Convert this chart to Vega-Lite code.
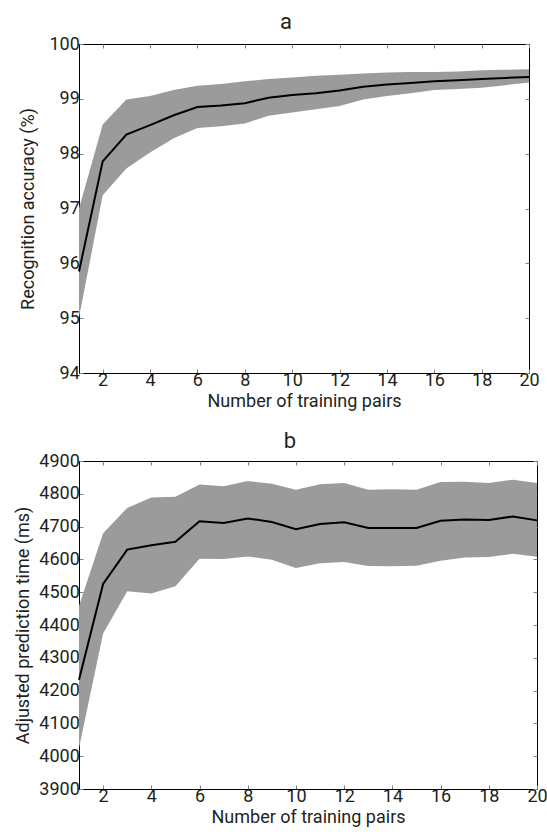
{
  "$schema": "https://vega.github.io/schema/vega-lite/v6.json",
  "padding": {"left": 13, "top": 10, "right": 0, "bottom": 0},
  "spacing": 18,
  "datasets": {
    "a": [
      {"n": 1, "lo": 95.01, "mean": 95.85, "hi": 97.00},
      {"n": 2, "lo": 97.24, "mean": 97.86, "hi": 98.53},
      {"n": 3, "lo": 97.73, "mean": 98.35, "hi": 98.99},
      {"n": 4, "lo": 98.02, "mean": 98.52, "hi": 99.05},
      {"n": 5, "lo": 98.28, "mean": 98.70, "hi": 99.16},
      {"n": 6, "lo": 98.47, "mean": 98.85, "hi": 99.24},
      {"n": 7, "lo": 98.50, "mean": 98.88, "hi": 99.27},
      {"n": 8, "lo": 98.55, "mean": 98.92, "hi": 99.32},
      {"n": 9, "lo": 98.69, "mean": 99.02, "hi": 99.36},
      {"n": 10, "lo": 98.75, "mean": 99.07, "hi": 99.39},
      {"n": 11, "lo": 98.81, "mean": 99.10, "hi": 99.42},
      {"n": 12, "lo": 98.87, "mean": 99.15, "hi": 99.44},
      {"n": 13, "lo": 98.99, "mean": 99.22, "hi": 99.46},
      {"n": 14, "lo": 99.05, "mean": 99.26, "hi": 99.48},
      {"n": 15, "lo": 99.10, "mean": 99.29, "hi": 99.49},
      {"n": 16, "lo": 99.16, "mean": 99.32, "hi": 99.49},
      {"n": 17, "lo": 99.18, "mean": 99.34, "hi": 99.50},
      {"n": 18, "lo": 99.20, "mean": 99.36, "hi": 99.52},
      {"n": 19, "lo": 99.25, "mean": 99.38, "hi": 99.53},
      {"n": 20, "lo": 99.30, "mean": 99.40, "hi": 99.54}
    ],
    "b": [
      {"n": 1, "lo": 4025, "mean": 4233, "hi": 4458},
      {"n": 2, "lo": 4374, "mean": 4525, "hi": 4680},
      {"n": 3, "lo": 4503, "mean": 4630, "hi": 4757},
      {"n": 4, "lo": 4496, "mean": 4643, "hi": 4789},
      {"n": 5, "lo": 4518, "mean": 4654, "hi": 4791},
      {"n": 6, "lo": 4602, "mean": 4716, "hi": 4828},
      {"n": 7, "lo": 4601, "mean": 4711, "hi": 4823},
      {"n": 8, "lo": 4609, "mean": 4725, "hi": 4839},
      {"n": 9, "lo": 4599, "mean": 4714, "hi": 4831},
      {"n": 10, "lo": 4574, "mean": 4692, "hi": 4812},
      {"n": 11, "lo": 4588, "mean": 4708, "hi": 4829},
      {"n": 12, "lo": 4592, "mean": 4713, "hi": 4833},
      {"n": 13, "lo": 4580, "mean": 4696, "hi": 4812},
      {"n": 14, "lo": 4579, "mean": 4696, "hi": 4814},
      {"n": 15, "lo": 4581, "mean": 4696, "hi": 4812},
      {"n": 16, "lo": 4596, "mean": 4718, "hi": 4836},
      {"n": 17, "lo": 4606, "mean": 4722, "hi": 4837},
      {"n": 18, "lo": 4607, "mean": 4720, "hi": 4833},
      {"n": 19, "lo": 4617, "mean": 4731, "hi": 4843},
      {"n": 20, "lo": 4608, "mean": 4719, "hi": 4833}
    ]
  },
  "vconcat": [
    {
      "width": 450,
      "height": 329,
      "title": {"text": "a", "dx": -18, "offset": 1},
      "data": {"name": "a"},
      "layer": [
        {
          "mark": {"type": "area", "color": "#9b9b9b", "opacity": 1},
          "encoding": {
            "x": {"field": "n", "type": "quantitative", "scale": {"domain": [1, 20], "nice": false, "zero": false},
                  "axis": {"orient": "bottom", "values": [2, 4, 6, 8, 10, 12, 14, 16, 18, 20], "title": "Number of training pairs", "labelPadding": 2.8, "titleY": 19}},
            "y": {"field": "lo", "type": "quantitative", "scale": {"domain": [94, 100], "nice": false, "zero": false},
                  "axis": {"orient": "left", "values": [94, 95, 96, 97, 98, 99, 100], "title": "Recognition accuracy (%)", "labelPadding": 3.7, "titleX": -42}},
            "y2": {"field": "hi"}
          }
        },
        {
          "mark": {"type": "line", "color": "#000000", "strokeWidth": 2},
          "encoding": {
            "x": {"field": "n", "type": "quantitative", "axis": null},
            "y": {"field": "mean", "type": "quantitative", "axis": null}
          }
        },
        {
          "mark": {"type": "line", "opacity": 0},
          "encoding": {
            "x": {"field": "n", "type": "quantitative", "axis": {"orient": "top", "values": [2, 4, 6, 8, 10, 12, 14, 16, 18, 20], "labels": false, "domain": false, "title": null, "minExtent": 0, "maxExtent": 0}},
            "y": {"field": "mean", "type": "quantitative", "axis": {"orient": "right", "values": [94, 95, 96, 97, 98, 99, 100], "labels": false, "domain": false, "title": null, "minExtent": 0, "maxExtent": 0}}
          }
        }
      ],
      "resolve": {"axis": {"x": "independent", "y": "independent"}}
    },
    {
      "width": 458,
      "height": 328,
      "title": {"text": "b", "dx": -18, "offset": -1},
      "data": {"name": "b"},
      "layer": [
        {
          "mark": {"type": "area", "color": "#9b9b9b", "opacity": 1},
          "encoding": {
            "x": {"field": "n", "type": "quantitative", "scale": {"domain": [1, 20], "nice": false, "zero": false},
                  "axis": {"orient": "bottom", "values": [2, 4, 6, 8, 10, 12, 14, 16, 18, 20], "title": "Number of training pairs", "labelPadding": 2.8, "titleY": 19}},
            "y": {"field": "lo", "type": "quantitative", "scale": {"domain": [3900, 4900], "nice": false, "zero": false},
                  "axis": {"orient": "left", "values": [3900, 4000, 4100, 4200, 4300, 4400, 4500, 4600, 4700, 4800, 4900], "format": "d", "title": "Adjusted prediction time (ms)", "labelPadding": 3.7, "titleX": -47}},
            "y2": {"field": "hi"}
          }
        },
        {
          "mark": {"type": "line", "color": "#000000", "strokeWidth": 2},
          "encoding": {
            "x": {"field": "n", "type": "quantitative", "axis": null},
            "y": {"field": "mean", "type": "quantitative", "axis": null}
          }
        },
        {
          "mark": {"type": "line", "opacity": 0},
          "encoding": {
            "x": {"field": "n", "type": "quantitative", "axis": {"orient": "top", "values": [2, 4, 6, 8, 10, 12, 14, 16, 18, 20], "labels": false, "domain": false, "title": null, "minExtent": 0, "maxExtent": 0}},
            "y": {"field": "mean", "type": "quantitative", "axis": {"orient": "right", "values": [3900, 4000, 4100, 4200, 4300, 4400, 4500, 4600, 4700, 4800, 4900], "labels": false, "domain": false, "title": null, "minExtent": 0, "maxExtent": 0}}
          }
        }
      ],
      "resolve": {"axis": {"x": "independent", "y": "independent"}}
    }
  ],
  "config": {
    "font": "Roboto",
    "view": {"stroke": "#000000", "strokeWidth": 1},
    "axis": {
      "grid": false,
      "labelFont": "Roboto",
      "labelFontSize": 18,
      "labelColor": "#231f20",
      "titleFont": "Roboto",
      "titleFontSize": 18,
      "titleFontWeight": "normal",
      "titleColor": "#231f20",
      "tickColor": "#808080",
      "tickSize": -4,
      "domainColor": "#000000",
      "labelFlush": false,
      "labelOverlap": false
    },
    "title": {"font": "Roboto", "fontSize": 22, "fontWeight": "normal", "color": "#231f20"}
  }
}
